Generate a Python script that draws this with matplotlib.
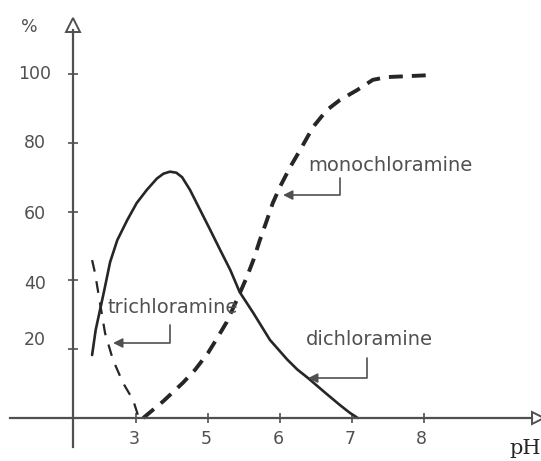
import matplotlib
matplotlib.use('Agg')
import matplotlib.pyplot as plt

# Chloramine species vs pH
di_ph = [3.39, 3.44, 3.50, 3.56, 3.64, 3.74, 3.88, 4.01, 4.15, 4.29, 4.38, 4.47,
         4.56, 4.64, 4.75, 4.89, 5.03, 5.17, 5.31, 5.44, 5.63, 5.86, 6.10, 6.24,
         6.39, 6.63, 6.83, 6.97, 7.08]
di_pct = [18.3, 25.6, 31.4, 37.2, 45.3, 51.7, 57.6, 62.5, 66.3, 69.6, 71.0, 71.6,
          71.3, 70.0, 66.3, 60.5, 54.7, 48.8, 43.0, 36.6, 30.5, 22.7, 17.0, 14.1,
          11.6, 7.3, 3.8, 1.5, 0.0]

mono_ph = [4.10, 4.38, 4.65, 4.82, 5.00, 5.13, 5.26, 5.40, 5.54, 5.63, 5.72, 5.82,
           5.90, 6.00, 6.14, 6.28, 6.46, 6.65, 6.83, 7.07, 7.29, 7.49, 8.13]
mono_pct = [0.0, 4.9, 10.2, 14.0, 18.9, 23.3, 27.9, 34.3, 41.0, 45.9, 51.7, 57.6,
            62.5, 67.2, 72.9, 77.9, 84.6, 89.5, 92.4, 95.3, 98.3, 99.1, 99.7]

tri_ph = [3.39, 3.43, 3.50, 3.57, 3.68, 3.82, 3.96, 4.04]
tri_pct = [45.9, 42.2, 33.4, 24.7, 16.9, 10.2, 5.2, 0.0]

xtick_pos = [4, 5, 6, 7, 8]
xtick_labels = ["3", "5", "6", "7", "8"]   # as printed on the original
ytick_pos = [20, 40, 60, 80, 100]
ytick_labels = ["20", "40", "60", "80", "100"]

plt.rcParams['font.family'] = ['DejaVu Sans']
plt.rcParams['lines.scale_dashes'] = False

ink = '#262626'
grey = '#505050'

fig = plt.figure(figsize=(5.41, 4.61), dpi=100)
ax = fig.add_axes([0, 0, 1, 1])
ax.set_xlim(2.111, 9.625)
ax.set_ylim(-12.5, 121.5)

# hand-drawn style axes through the origin
y_axis_x = 3.125
for s in ['top', 'right']:
    ax.spines[s].set_visible(False)
ax.spines['left'].set_position(('data', y_axis_x))
ax.spines['left'].set_bounds(-8.4, 112.8)
ax.spines['bottom'].set_position(('data', 0))
ax.spines['bottom'].set_bounds(2.25, 9.5)
for s in ['left', 'bottom']:
    ax.spines[s].set_linewidth(1.6)
    ax.spines[s].set_color(grey)
ax.set_xticks(xtick_pos)
ax.set_yticks(ytick_pos)
ax.set_xticklabels([])
ax.set_yticklabels([])
ax.tick_params(direction='inout', length=7, width=1.2, color=grey)

# open arrow heads at the axis ends
ax.plot([y_axis_x], [114.2], marker='^', ms=10, mfc='white', mec=grey, mew=1.4,
        clip_on=False)
ax.plot([9.58], [0], marker='>', ms=9, mfc='white', mec=grey, mew=1.4, clip_on=False)

# tick labels
for x, lab in zip(xtick_pos, xtick_labels):
    ax.text(x - 0.03, -6.0, lab, ha='center', va='center', fontsize=12.5, color=grey)
label_shift = [2.7, -1.0, -0.8, 0.0, 0.0]  # the drawing's labels sit a bit off their ticks
for y, lab, dy in zip(ytick_pos, ytick_labels, label_shift):
    ax.text(2.595, y + dy, lab, ha='center', va='center', fontsize=12.5, color=grey)

ax.text(2.514, 113.7, '%', ha='center', va='center', fontsize=12.5, color=grey)
ax.text(9.40, -9.0, 'pH', ha='center', va='center', fontsize=15,
        family='DejaVu Serif', color=ink, clip_on=False)

# curves
ax.plot(di_ph, di_pct, color=ink, lw=1.9, solid_capstyle='round',
        solid_joinstyle='round')
ax.plot(mono_ph, mono_pct, color=ink, lw=2.8, dashes=(10, 6.5))
ax.plot(tri_ph, tri_pct, color=ink, lw=1.6, dashes=(8.5, 7))

# labels with bracket arrows
notes = [
    ('trichloramine', (4.514, 32.0), (4.472, 27.0), (3.681, 21.8)),
    ('monochloramine', (7.528, 73.5), (6.833, 69.8), (6.042, 64.8)),
    ('dichloramine', (7.236, 22.7), (7.208, 17.4), (6.389, 11.6)),
]
for name, txt_xy, start, tip in notes:
    ax.text(txt_xy[0], txt_xy[1], name, ha='center', va='center', fontsize=14,
            color=grey)
    ax.annotate('', xy=tip, xytext=start,
                arrowprops=dict(arrowstyle='-|>', color=grey, lw=1.2,
                                mutation_scale=14, shrinkA=0, shrinkB=0,
                                connectionstyle='angle,angleA=90,angleB=0,rad=0'))

fig.savefig('out.png', dpi=100)
